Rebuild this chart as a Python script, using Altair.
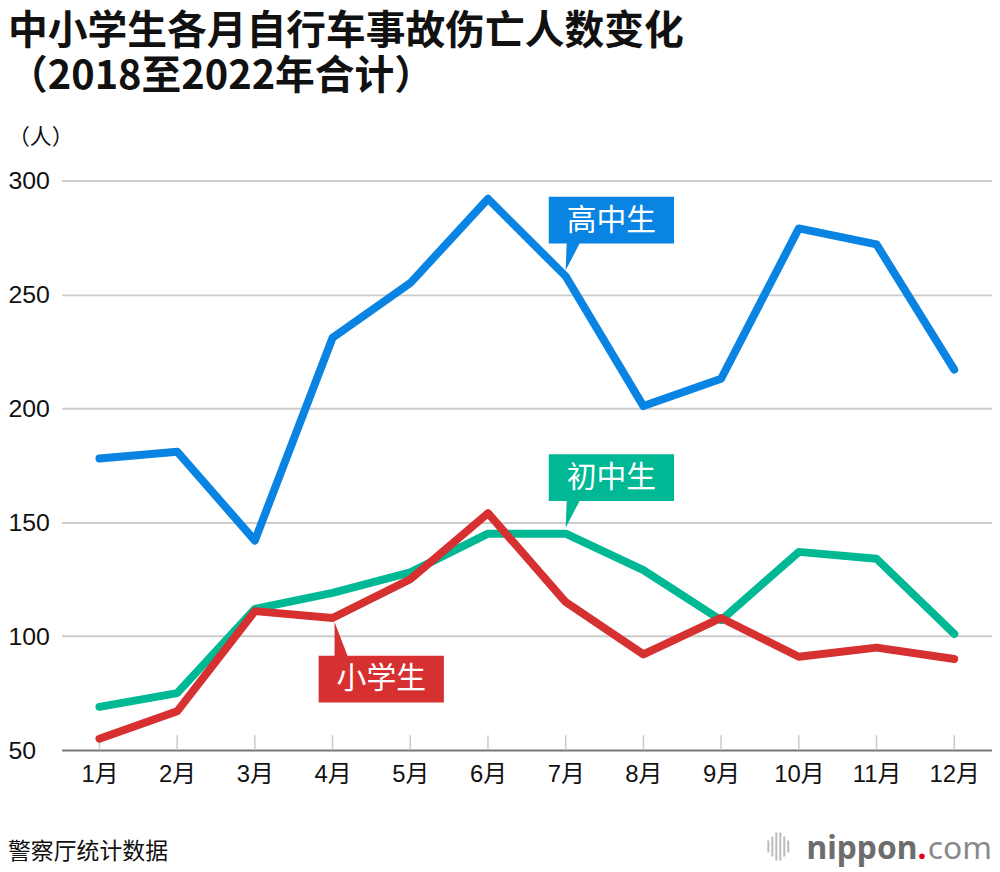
import altair as alt
import pandas as pd

# ---------------- data ----------------
months = ["1月", "2月", "3月", "4月", "5月", "6月", "7月", "8月", "9月", "10月", "11月", "12月"]
high_school = [178, 181, 142, 231, 255, 292, 258, 201, 213, 279, 272, 217]
middle_school = [69, 75, 112, 119, 128, 145, 145, 129, 107, 137, 134, 101]
elementary = [55, 67, 111, 108, 125, 154, 115, 92, 108, 91, 95, 90]

series_names = ["高中生", "初中生", "小学生"]
series_colors = ["#0984e3", "#00b894", "#d63031"]
label_months = ["7月", "7月", "4月"]

y_ticks = [50, 100, 150, 200, 250, 300]

title_line1 = "中小学生各月自行车事故伤亡人数变化"
title_line2 = "（2018至2022年合计）"
unit_label = "（人）"
source_label = "警察厅统计数据"

# ---------------- tables ----------------
series_values = [high_school, middle_school, elementary]
rows = []
for name, vals in zip(series_names, series_values):
    for m, v in zip(months, vals):
        rows.append({"month": m, "value": v, "series": name})
df = pd.DataFrame(rows)

tick_df = pd.DataFrame({"month": months, "value": [y_ticks[0]] * len(months)})

W, H = 936, 573
CJK = "Noto Sans CJK SC"

x_enc = alt.X(
    "month:O",
    sort=months,
    scale=alt.Scale(type="point", domain=months, padding=0.486),
    axis=alt.Axis(
        title=None,
        labelAngle=0,
        ticks=False,
        grid=False,
        domainColor="#777777",
        domainWidth=2,
        labelPadding=13,
        labelFont="Liberation Sans, Noto Sans CJK SC",
        labelFontSize=24,
        labelColor="#111111",
    ),
)
y_enc = alt.Y(
    "value:Q",
    scale=alt.Scale(domain=[y_ticks[0], y_ticks[-1]], nice=False, zero=False),
    axis=alt.Axis(
        title=None,
        values=y_ticks,
        domain=False,
        ticks=False,
        grid=True,
        gridColor="#cccccc",
        gridWidth=2,
        gridOpacity={"condition": {"test": "datum.value === 50", "value": 0}, "value": 1},
        labelAlign="left",
        labelBaseline="middle",
        labelPadding=54,
        labelFont="Liberation Sans",
        labelFontSize=25,
        labelColor="#111111",
    ),
)
color_enc = alt.Color(
    "series:N", scale=alt.Scale(domain=series_names, range=series_colors), legend=None
)

layers = []

# small vertical ticks rising from the x axis
layers.append(
    alt.Chart(tick_df)
    .mark_rule(color="#cccccc", strokeWidth=1.5, y2Offset=-15)
    .encode(x=x_enc, y=y_enc, y2=alt.Y2("value:Q"))
)

# lines
for name in series_names:
    layers.append(
        alt.Chart(df)
        .transform_filter(alt.datum.series == name)
        .mark_line(strokeWidth=8, strokeCap="round", strokeJoin="round")
        .encode(x=x_enc, y=y_enc, color=color_enc)
    )

# callout labels (box + pointer as one custom symbol, anchored on a data point)
callout_shapes = {
    "高中生": ("M-17,-80 L109,-80 L109,-33 L14,-33 L0,-6 L1,-33 L-17,-33 Z", 46, -56),
    "初中生": ("M-17,-80 L109,-80 L109,-33 L14,-33 L0,-6 L1,-33 L-17,-33 Z", 46, -56),
    "小学生": ("M2,4 L15,38 L112,38 L112,85 L-14,85 L-14,38 L2,38 Z", 49, 61),
}
for name, color, lm in zip(series_names, series_colors, label_months):
    vals = series_values[series_names.index(name)]
    lab_df = pd.DataFrame({"month": [lm], "value": [vals[months.index(lm)]], "label": [name]})
    path, tdx, tdy = callout_shapes[name]
    layers.append(
        alt.Chart(lab_df)
        .mark_point(shape=path, size=4, filled=True, color=color, opacity=1, strokeWidth=0)
        .encode(x=x_enc, y=y_enc)
    )
    layers.append(
        alt.Chart(lab_df)
        .mark_text(
            dx=tdx, dy=tdy, color="white", font=CJK, fontSize=30,
            align="center", baseline="middle",
        )
        .encode(x=x_enc, y=y_enc, text="label:N")
    )


def text_layer(txt, x, y, **kw):
    return (
        alt.Chart(pd.DataFrame({"t": [txt]}))
        .mark_text(**kw)
        .encode(text="t:N", x=alt.value(x), y=alt.value(y))
    )


layers.append(text_layer(title_line1, -54, -149, align="left", baseline="middle",
                         font=CJK, fontWeight="bold", fontSize=40, color="#111111"))
layers.append(text_layer(title_line2, -54, -104, align="left", baseline="middle",
                         font=CJK, fontWeight="bold", fontSize=40, color="#111111"))
layers.append(text_layer(unit_label, -54, -44, align="left", baseline="middle",
                         font=CJK, fontSize=22, color="#111111"))
layers.append(text_layer(source_label, -54, 676, align="left", baseline="middle",
                         font=CJK, fontSize=23, color="#111111"))

# nippon.com logo
icon_path = ("M0,-6 L2,-6 L2,6 L0,6 Z M4,-10 L6,-10 L6,10 L4,10 Z "
             "M8,-14 L10,-14 L10,14 L8,14 Z M12,-14 L14,-14 L14,14 L12,14 Z "
             "M16,-10 L18,-10 L18,10 L16,10 Z M20,-6 L22,-6 L22,6 L20,6 Z")
layers.append(
    alt.Chart(pd.DataFrame({"t": ["icon"]}))
    .mark_point(shape=icon_path, size=4, filled=True, color="#bbbbbb", opacity=1, strokeWidth=0)
    .encode(x=alt.value(710), y=alt.value(670))
)
layers.append(text_layer("nippon", 861, 683, align="right", baseline="alphabetic",
                         font="Noto Sans", fontWeight="bold", fontSize=32, color="#6d6d6d"))
layers.append(text_layer(".", 861, 683, align="left", baseline="alphabetic",
                         font="Noto Sans", fontWeight="bold", fontSize=32, color="#e60012"))
layers.append(text_layer("com", 936, 683, align="right", baseline="alphabetic",
                         font="Noto Sans", fontSize=32, color="#8a8a8a"))

chart = (
    alt.layer(*layers)
    .properties(
        width=W,
        height=H,
        autosize=alt.AutoSizeParams(type="none"),
        padding={"left": 54, "top": 171, "right": 0, "bottom": 116},
    )
    .configure_view(stroke=None)
)

chart.save("out.html", embed_options={"renderer": "svg", "actions": False})
